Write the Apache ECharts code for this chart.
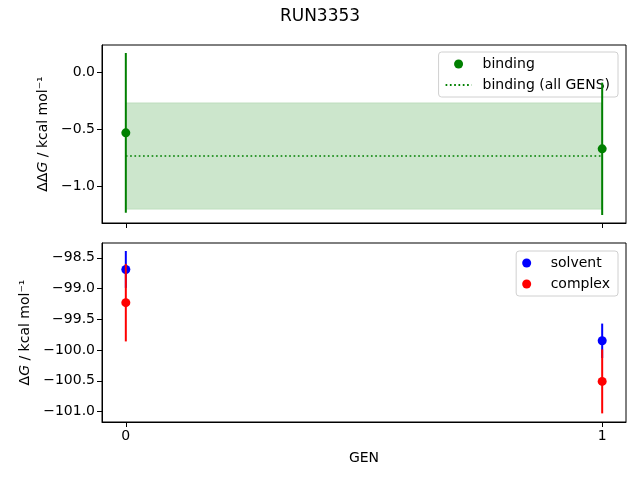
<!DOCTYPE html>
<html>
<head>
<meta charset="utf-8">
<script src="https://cdn.jsdelivr.net/npm/echarts@6/dist/echarts.min.js"></script>
<style>
html,body{margin:0;padding:0;background:#fff}
#chart{width:640px;height:480px}
</style>
</head>
<body>
<div id="chart"></div>
<script>
// values
var gens=[0,1];
var bindingVals=[-0.53,-0.67];
var bindingErrs=[0.70,0.58];
var bindingAll=-0.733, bindingAllErr=0.466;
var solventVals=[-98.69,-99.85];
var solventErrs=[0.30,0.28];
var complexVals=[-99.23,-100.51];
var complexErrs=[0.63,0.52];

var xTicks=[0,1];
var topTicks=[-1.0,-0.5,0.0];
var bottomTicks=[-101.0,-100.5,-100.0,-99.5,-99.0,-98.5];
var topRange=[-1.32,0.24];
var bottomRange=[-101.17,-98.26];

var FONT='DejaVu Sans';
var chart=echarts.init(document.getElementById('chart'));

function fmt(v){
    return (v<0?'\u2212':'')+Math.abs(v).toFixed(1);
}
function points(vals){
    return gens.map(function(g,i){return [g,vals[i]];});
}
function bars(vals,errs){
    return gens.map(function(g,i){return [g,vals[i]-errs[i],vals[i]+errs[i]];});
}
function errorSeries(vals,errs,color,idx,z){
    return {
        type:'custom',xAxisIndex:idx,yAxisIndex:idx,z:z,silent:true,
        data:bars(vals,errs),
        encode:{x:0,y:[1,2]},
        renderItem:function(params,api){
            var a=api.coord([api.value(0),api.value(1)]);
            var b=api.coord([api.value(0),api.value(2)]);
            return {type:'line',shape:{x1:a[0],y1:a[1],x2:b[0],y2:b[1]},
                style:{stroke:color,lineWidth:2}};
        }
    };
}
function xAxis(idx,showLabels){
    return {
        type:'value',gridIndex:idx,min:-0.05,max:1.05,
        name:showLabels?'GEN':'',nameLocation:'middle',nameGap:29,
        nameTextStyle:{fontFamily:FONT,fontSize:14,color:'#000'},
        axisLine:{show:true,onZero:false,lineStyle:{color:'#000',width:1}},
        axisTick:{show:true,length:5,customValues:xTicks,lineStyle:{color:'#000'}},
        axisLabel:{show:showLabels,customValues:xTicks,fontFamily:FONT,fontSize:14,color:'#000',margin:7,
            formatter:function(v){return String(v);}},
        splitLine:{show:false}
    };
}
function yAxis(idx,range,ticks,name,gap){
    return {
        type:'value',gridIndex:idx,min:range[0],max:range[1],
        name:name,nameLocation:'middle',nameGap:gap,nameRotate:90,
        nameTextStyle:{fontFamily:FONT,fontSize:14,color:'#000',
            rich:{i:{fontFamily:FONT,fontSize:14,fontStyle:'italic',color:'#000'}}},
        axisLine:{show:true,onZero:false,lineStyle:{color:'#000',width:1}},
        axisTick:{show:true,length:5,customValues:ticks,lineStyle:{color:'#000'}},
        axisLabel:{customValues:ticks,fontFamily:FONT,fontSize:14,color:'#000',margin:7,formatter:fmt},
        splitLine:{show:false}
    };
}
var legendBase={
    orient:'vertical',itemWidth:26,itemHeight:9,itemGap:7,
    backgroundColor:'rgba(255,255,255,0.8)',borderColor:'#d0d0d0',borderWidth:1,borderRadius:3,
    padding:[5,8,5,6],
    textStyle:{fontFamily:FONT,fontSize:14,color:'#000',padding:[0,0,0,6]}
};

chart.setOption({
    animation:false,
    title:{text:'RUN3353',left:'center',top:3,
        textStyle:{fontFamily:FONT,fontSize:17,fontWeight:'normal',color:'#000'}},
    grid:[
        {left:102,right:14,top:45,height:178,show:true,borderColor:'#000',borderWidth:1,backgroundColor:'transparent'},
        {left:102,right:14,top:243,height:179,show:true,borderColor:'#000',borderWidth:1,backgroundColor:'transparent'}
    ],
    legend:[
        Object.assign({},legendBase,{right:22,top:52,data:[
            {name:'binding'},
            {name:'binding (all GENS)',itemStyle:{opacity:0,color:'rgba(0,0,0,0)'}}
        ]}),
        Object.assign({},legendBase,{right:22,top:251,data:['solvent','complex']})
    ],
    xAxis:[xAxis(0,false),xAxis(1,true)],
    yAxis:[
        yAxis(0,topRange,topTicks,'\u0394\u0394{i|G} / kcal mol\u207B\u00B9',50),
        yAxis(1,bottomRange,bottomTicks,'\u0394{i|G} / kcal mol\u207B\u00B9',64)
    ],
    series:[
        {
            name:'binding (all GENS)',type:'line',xAxisIndex:0,yAxisIndex:0,z:3,
            data:[[gens[0],bindingAll],[gens[gens.length-1],bindingAll]],
            symbol:'none',silent:true,
            lineStyle:{color:'green',width:1.7,type:[1.7,2.6]},
            itemStyle:{color:'green'},
            markArea:{silent:true,
                itemStyle:{color:'rgba(0,128,0,0.2)',borderColor:'rgba(0,128,0,0.12)',borderWidth:1},
                data:[[{coord:[gens[0],bindingAll-bindingAllErr]},{coord:[gens[gens.length-1],bindingAll+bindingAllErr]}]]}
        },
        errorSeries(bindingVals,bindingErrs,'green',0,4),
        {name:'binding',type:'scatter',xAxisIndex:0,yAxisIndex:0,z:5,symbolSize:9,
            itemStyle:{color:'green',opacity:1},data:points(bindingVals)},
        errorSeries(solventVals,solventErrs,'blue',1,4),
        {name:'solvent',type:'scatter',xAxisIndex:1,yAxisIndex:1,z:5,symbolSize:9,
            itemStyle:{color:'blue',opacity:1},data:points(solventVals)},
        errorSeries(complexVals,complexErrs,'red',1,6),
        {name:'complex',type:'scatter',xAxisIndex:1,yAxisIndex:1,z:7,symbolSize:9,
            itemStyle:{color:'red',opacity:1},data:points(complexVals)}
    ]
});
</script>
</body>
</html>
